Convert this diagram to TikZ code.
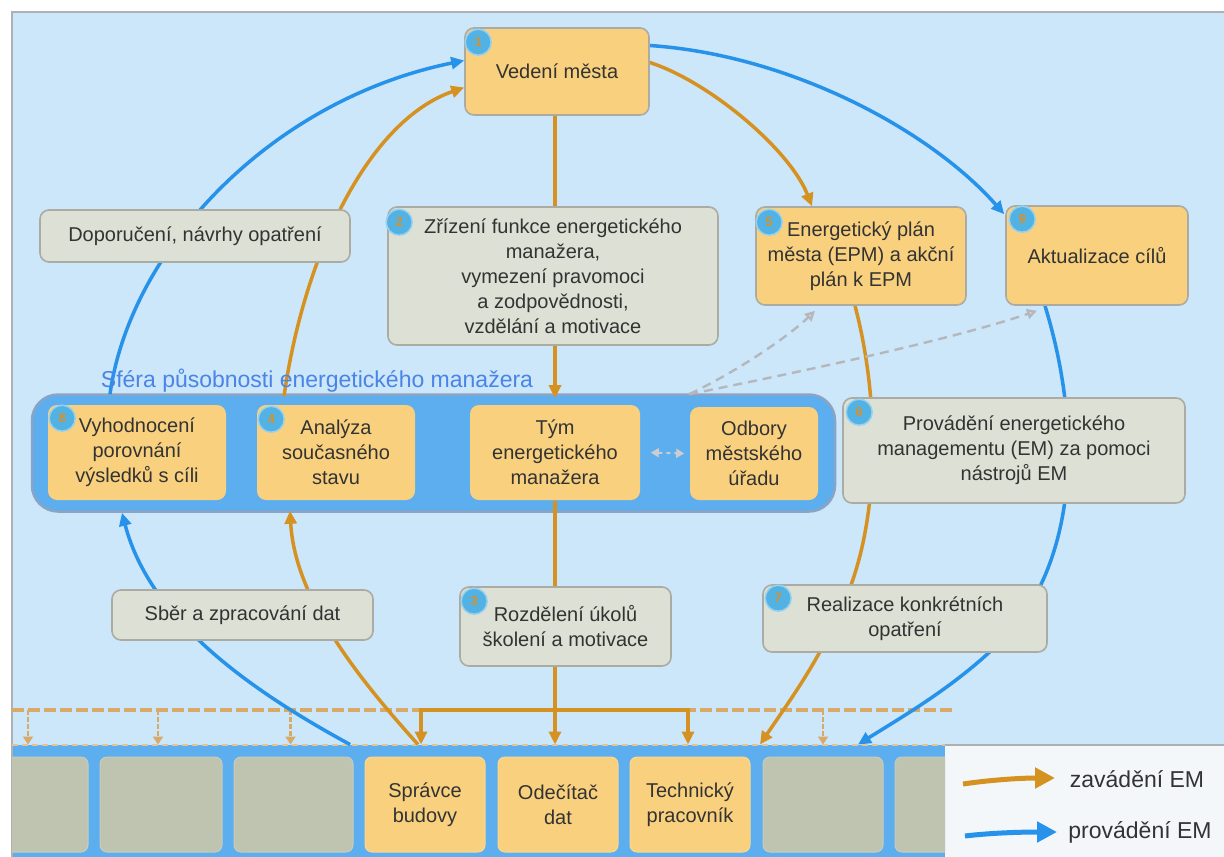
\documentclass[tikz,border=0pt]{standalone}
\usepackage{fontspec}
\setmainfont{Liberation Sans}
\usetikzlibrary{arrows.meta,calc}
\definecolor{bgblue}{HTML}{CCE6FA}
\definecolor{bandblue}{HTML}{5CAEEE}
\definecolor{bandline}{HTML}{8AA4C6}
\definecolor{orfill}{HTML}{F9D17E}
\definecolor{grfill}{HTML}{DDE0D5}
\definecolor{boxline}{HTML}{ABABA3}
\definecolor{stripgray}{HTML}{BEC4AF}
\definecolor{badgefill}{HTML}{52B2E4}
\definecolor{badgenum}{HTML}{D8902A}
\definecolor{cblue}{HTML}{2692EA}
\definecolor{corange}{HTML}{D69220}
\definecolor{dgray}{HTML}{B4B8BC}
\definecolor{tandash}{HTML}{D9A968}
\definecolor{txt}{HTML}{333333}
\definecolor{sferacol}{HTML}{4A84E6}
\definecolor{legfill}{HTML}{F3F7FA}
\definecolor{framecol}{HTML}{B0B0B0}
\pgfdeclarelayer{back}
\pgfdeclarelayer{mid}
\pgfsetlayers{back,mid,main}
\newcommand\fs{\fontsize{20}{25}\selectfont}
\newcommand\fl{\fontsize{23}{28}\selectfont}
\begin{document}
\begin{tikzpicture}[x=1pt,y=-1pt,
 basebox/.style={rounded corners=9pt,line width=1.6pt,draw=boxline,align=center,text=txt,font=\fs,inner sep=0pt},
 orbox/.style={basebox,fill=orfill},
 grbox/.style={basebox,fill=grfill},
 stripbox/.style={rounded corners=7pt,fill=stripgray,draw=stripgray!85!white,line width=1pt,minimum height=95pt,minimum width=120pt,text=txt,font=\fs,align=center,inner sep=0pt},
 stripor/.style={stripbox,fill=orfill,draw=orfill!85!white},
 badge/.style={circle,fill=badgefill,draw=badgefill!60!white,line width=1.5pt,minimum size=26pt,inner sep=0pt,text=badgenum,font=\fontsize{13}{13}\selectfont\bfseries},
 tipa/.style={-{Triangle[length=13pt,width=12pt]}},
 blu/.style={draw=cblue,line width=3.5pt},
 ora/.style={draw=corange,line width=3.5pt},
 dg/.style={draw=dgray,line width=2.4pt,dash pattern=on 9pt off 6pt,-{Triangle[length=10pt,width=10pt,fill=dgray!50!white]}},
 tanline/.style={draw=tandash,line width=3.2pt,dash pattern=on 12pt off 4pt},
 tanarrow/.style={draw=tandash,line width=2.6pt,dash pattern=on 5pt off 2pt,-{Triangle[length=8pt,width=10pt]},shorten >=12pt},
 legtext/.style={text=txt,font=\fl,inner sep=0pt}
]
\useasboundingbox (0,0) rectangle (1224,857);

% ---------------- background ----------------
\begin{pgfonlayer}{back}
\fill[white] (0,0) rectangle (1224,857);
\fill[bgblue] (12,12) rectangle (1224,745);
\fill[bandblue] (12,745) rectangle (945,857);
\fill[legfill] (945,745) rectangle (1224,857);
\draw[framecol,line width=1.5pt] (12,857) -- (12,12) -- (1224,12);
\draw[framecol,line width=1.5pt] (945,745) -- (1224,745);
\node[rounded corners=26pt,fill=bandblue,draw=bandline,line width=2.5pt,minimum width=803pt,minimum height=117pt,inner sep=0pt] (band) at (433.5,453) {};
\end{pgfonlayer}

% ---------------- nodes ----------------
\node[orbox,minimum width=184pt,minimum height=87pt] (ved) at (557,71.5) {Vedení města};
\node[grbox,minimum width=330pt,minimum height=138pt] (zriz) at (553,276) {Zřízení funkce energetického\\manažera,\\vymezení pravomoci\\a zodpovědnosti,\\vzdělání a motivace};
\node[orbox,minimum width=210pt,minimum height=98pt] (epm) at (861,256) {Energetický plán\\města (EPM) a akční\\plán k EPM};
\node[orbox,minimum width=182pt,minimum height=99pt] (akt) at (1097,255.5) {Aktualizace cílů};
\node[grbox,minimum width=310pt,minimum height=52pt] (dop) at (195,236) {Doporučení, návrhy opatření};

\node[text=sferacol,font=\fl,inner sep=0pt] (sfera) at (317,381) {Sféra působnosti energetického manažera};

\node[orbox,draw=none,minimum width=178pt,minimum height=95pt] (vyh) at (137,452.5) {Vyhodnocení\\porovnání\\výsledků s cíli};
\node[orbox,draw=none,minimum width=158pt,minimum height=95pt] (anal) at (336,452.5) {Analýza\\současného\\stavu};
\node[orbox,draw=none,minimum width=170pt,minimum height=95pt] (tym) at (555,452.5) {Tým\\energetického\\manažera};
\node[orbox,draw=none,minimum width=128pt,minimum height=93pt] (odb) at (754,453.5) {Odbory\\městského\\úřadu};

\node[grbox,minimum width=342pt,minimum height=105pt] (prov) at (1014,450.5) {Provádění energetického\\managementu (EM) za pomoci\\nástrojů EM};
\node[grbox,minimum width=261pt,minimum height=50pt] (sber) at (242.5,615) {Sběr a zpracování dat};
\node[grbox,minimum width=211pt,minimum height=79pt] (rozd) at (565.5,626.5) {Rozdělení úkolů\\školení a motivace};
\node[grbox,minimum width=284pt,minimum height=67pt] (real) at (905,618.5) {Realizace konkrétních\\opatření};

% badges
\node[badge] (b1) at ([xshift=14pt,yshift=-15pt]ved.north west) {1};
\node[badge] (b2) at ([xshift=12pt,yshift=-16pt]zriz.north west) {2};
\node[badge] (b3) at ([xshift=15pt,yshift=-15pt]rozd.north west) {3};
\node[badge] (b4) at ([xshift=15pt,yshift=-15pt]anal.north west) {4};
\node[badge] (b5) at ([xshift=14pt,yshift=-16pt]epm.north west) {5};
\node[badge] (b6) at ([xshift=17pt,yshift=-15pt]prov.north west) {6};
\node[badge] (b7) at ([xshift=16pt,yshift=-14pt]real.north west) {7};
\node[badge] (b8) at ([xshift=15pt,yshift=-14pt]vyh.north west) {8};
\node[badge] (b9) at ([xshift=17pt,yshift=-14pt]akt.north west) {9};

% bottom strip
\begin{scope}
\clip (12,745) rectangle (945,857);
\node[stripbox] (sb1) at (28,804.5) {};
\node[stripbox,minimum width=122pt] (sb2) at (161,804.5) {};
\node[stripbox,minimum width=119pt] (sb3) at (293.5,804.5) {};
\node[stripor] (sprav) at (425,804.5) {Správce\\budovy};
\node[stripor] (odec) at (558,804.5) {Odečítač\\dat};
\node[stripor] (tech) at (690,804.5) {Technický\\pracovník};
\node[stripbox] (sb7) at (823,804.5) {};
\node[stripbox] (sb8) at (955,804.5) {};
\end{scope}

% legend
\node[legtext] (leg1) at (1137,779) {zavádění EM};
\node[legtext] (leg2) at (1140,832) {provádění EM};
\coordinate (la1) at (963,784);
\coordinate (la2) at (1055,778);
\coordinate (lb1) at (965,836);
\coordinate (lb2) at (1057,832);
\draw[ora,line width=5pt,-{Triangle[length=20pt,width=20pt]}] (la1) .. controls (990,780) and (1020,778) .. (la2);
\draw[blu,line width=5pt,-{Triangle[length=20pt,width=20pt]}] (lb1) .. controls (990,833) and (1020,832) .. (lb2);

% ---------------- connectors ----------------
\begin{pgfonlayer}{mid}
\coordinate (dl1) at (12,710);
\coordinate (dl2) at (955,710);
\draw[tanline] (dl1) -- (dl2);
\draw[draw=tandash!70!white,line width=1.2pt,dash pattern=on 6pt off 4pt] (12,745) -- (945,745);
\draw[tanarrow] (sb1.north |- dl1) -- (sb1.north);
\draw[tanarrow] ([xshift=-3pt]sb2.north |- dl1) -- ([xshift=-3pt]sb2.north);
\draw[tanarrow] ([xshift=-3pt]sb3.north |- dl1) -- ([xshift=-3pt]sb3.north);
\draw[tanarrow] (sb7.north |- dl1) -- (sb7.north);

% orange vertical chain
\draw[ora] (ved.south -| tym.north) -- (zriz.north -| tym.north);
\draw[ora,tipa,shorten >=6pt] (zriz.south -| tym.north) -- (tym.north);
\draw[ora] (tym.south) -- (rozd.north -| tym.south);
\draw[ora,tipa,shorten >=12pt] (rozd.south -| tym.south) -- (tym.south |- odec.north);
\coordinate (brk) at (555,710);
\draw[ora,tipa,shorten >=12pt] (brk) -| ([xshift=-4pt]sprav.north);
\draw[ora,tipa,shorten >=12pt] (brk) -| ([xshift=-2pt]tech.north);

% orange arcs
\draw[ora,tipa] ([xshift=-52pt,yshift=8pt]anal.north) .. controls (305,250) and (370,120) .. ([yshift=-16pt]ved.west);
\draw[ora,tipa] ([yshift=9pt]ved.east) .. controls (710,82) and (790,150) .. ([xshift=-49pt]epm.north);
\draw[ora,tipa] ([xshift=-6pt]epm.south) .. controls (880,400) and (880,520) .. (845,600) .. controls (820,660) and (790,700) .. ([xshift=70pt,yshift=12pt]tech.north);
\draw[ora,tipa] ([xshift=-7pt,yshift=12pt]sprav.north) .. controls (360,680) and (295,600) .. ([xshift=-46pt,yshift=-10pt]anal.south);

% blue arcs
\draw[blu,tipa] ([xshift=-27pt,yshift=10pt]vyh.north) .. controls (130,250) and (270,100) .. ([yshift=11pt]ved.west);
\draw[blu,tipa] ([yshift=26pt]ved.east) .. controls (790,55) and (930,130) .. ([xshift=-1pt,yshift=-9pt]akt.north west);
\draw[blu,tipa] ([xshift=-52pt]akt.south) .. controls (1080,420) and (1078,540) .. (1020,620) .. controls (975,675) and (905,715) .. ([xshift=35pt,yshift=12pt]sb7.north);
\draw[blu,tipa] ([xshift=56.5pt,yshift=12pt]sb3.north) .. controls (250,690) and (150,620) .. ([xshift=-15pt,yshift=-12pt]vyh.south);

% gray dashed
\draw[dg] ([yshift=12pt]odb.north west) .. controls (740,370) and (790,335) .. ([xshift=-46pt,yshift=-5pt]epm.south);
\draw[dg] ([yshift=12pt]odb.north west) .. controls (800,372) and (950,340) .. ([xshift=-60pt,yshift=-5pt]akt.south);
\draw[draw=dgray!70!white,line width=2pt,dash pattern=on 4pt off 4pt,{Triangle[length=8pt,width=9pt]}-{Triangle[length=8pt,width=9pt]}] ([xshift=10pt]tym.east) -- ([xshift=-5pt]odb.west);
\end{pgfonlayer}
\end{tikzpicture}
\end{document}
